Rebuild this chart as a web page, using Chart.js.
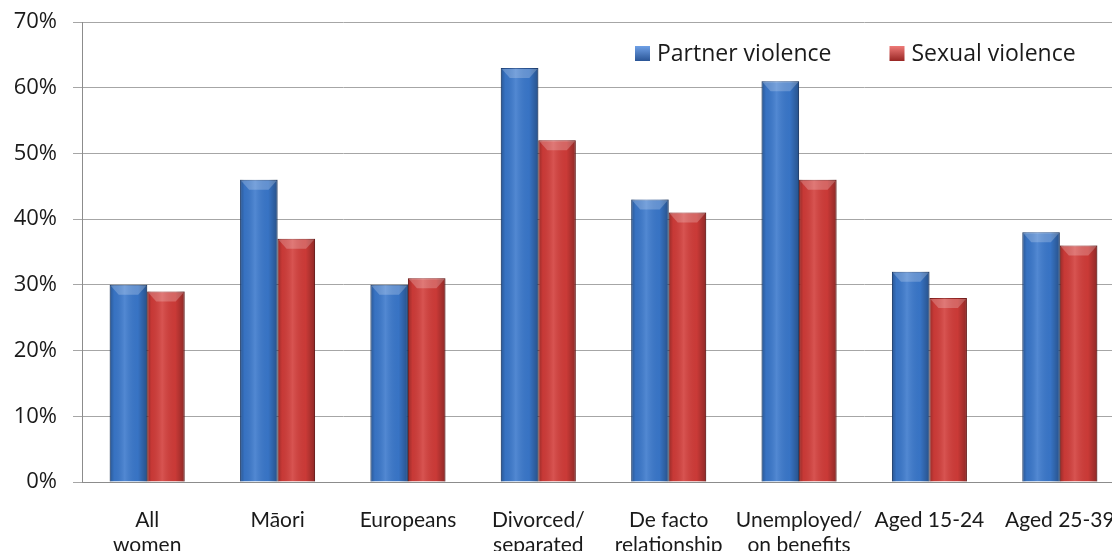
<!DOCTYPE html>
<html>
<head>
<meta charset="utf-8">
<script src="https://cdn.jsdelivr.net/npm/chart.js@4"></script>
<style>
  html, body { margin: 0; padding: 0; background: #fff; overflow: hidden; }
  #chart { display: block; }
</style>
</head>
<body>
<canvas id="chart" width="1125" height="556"></canvas>
<script>
// categories and values (percent of women)
var categories = [
    ['All', 'women'], ['Māori'], ['Europeans'], ['Divorced/', 'separated'],
    ['De facto', 'relationship'], ['Unemployed/', 'on benefits'], ['Aged 15-24'], ['Aged 25-39']
];
var partnerViolence = [30, 46, 30, 63, 43, 61, 32, 38];
var sexualViolence = [29, 37, 31, 52, 41, 46, 28, 36];
var yTicks = [0, 10, 20, 30, 40, 50, 60, 70];

// shading so the bars look like the rounded office bars
var barShading = {
    id: 'barShading',
    afterDatasetsDraw: function(chart) {
        var ctx = chart.ctx;
        ctx.save();
        chart.data.datasets.forEach(function(ds, di) {
            chart.getDatasetMeta(di).data.forEach(function(bar) {
                var left = bar.x - bar.width / 2, right = bar.x + bar.width / 2;
                var top = bar.y, bottom = bar.base;
                var g = ctx.createLinearGradient(left, 0, right, 0);
                g.addColorStop(0, 'rgba(0,0,0,0.28)');
                g.addColorStop(0.12, 'rgba(0,0,0,0.05)');
                g.addColorStop(0.4, 'rgba(255,255,255,0.12)');
                g.addColorStop(0.75, 'rgba(0,0,0,0.04)');
                g.addColorStop(1, 'rgba(0,0,0,0.32)');
                ctx.fillStyle = g;
                ctx.fillRect(left, top, right - left, bottom - top);
                // bevel on top
                var b = Math.min(10, bottom - top);
                ctx.beginPath();
                ctx.moveTo(left + 1, top + 1);
                ctx.lineTo(right - 1, top + 1);
                ctx.lineTo(right - 9, top + b);
                ctx.lineTo(left + 9, top + b);
                ctx.closePath();
                ctx.fillStyle = 'rgba(255,255,255,0.22)';
                ctx.fill();
            });
        });
        ctx.restore();
    }
};

// legend drawn inside the plot area, top right
var innerLegend = {
    id: 'innerLegend',
    afterDraw: function(chart) {
        var ctx = chart.ctx;
        var area = chart.chartArea;
        var x = area.right - 490, y = 54;
        ctx.save();
        ctx.font = '23px "Open Sans"';
        ctx.textBaseline = 'middle';
        chart.data.datasets.forEach(function(ds) {
            var g = ctx.createLinearGradient(0, y - 8, 0, y + 7);
            g.addColorStop(0, ds.lightColor);
            g.addColorStop(1, ds.borderColor);
            ctx.fillStyle = g;
            ctx.fillRect(x, y - 8, 15, 15);
            ctx.fillStyle = '#1a1a1a';
            ctx.fillText(ds.label, x + 22, y);
            x += 22 + ctx.measureText(ds.label).width + 58;
        });
        ctx.restore();
    }
};

new Chart(document.getElementById('chart'), {
    type: 'bar',
    data: {
        labels: categories,
        datasets: [
            {
                label: 'Partner violence',
                data: partnerViolence,
                backgroundColor: '#3a78cc',
                borderColor: '#2a5596',
                lightColor: '#6fa0e6',
                borderWidth: 1,
                categoryPercentage: 0.575,
                barPercentage: 1
            },
            {
                label: 'Sexual violence',
                data: sexualViolence,
                backgroundColor: '#d23c39',
                borderColor: '#982624',
                lightColor: '#ee7a77',
                borderWidth: 1,
                categoryPercentage: 0.575,
                barPercentage: 1
            }
        ]
    },
    options: {
        responsive: false,
        animation: false,
        layout: { padding: { left: 12, top: 22, right: 0, bottom: 0 } },
        plugins: {
            legend: { display: false },
            tooltip: { enabled: false }
        },
        scales: {
            x: {
                grid: { display: false },
                border: { display: true, color: '#8c8c8c' },
                afterFit: function(scale) {
                    scale.height = 74;
                    scale.paddingLeft = 0;
                    scale.paddingRight = 0;
                },
                ticks: {
                    color: '#1a1a1a',
                    padding: 18,
                    maxRotation: 0,
                    autoSkip: false,
                    font: { family: 'Lato', size: 21, lineHeight: 25 / 21 }
                }
            },
            y: {
                min: 0,
                max: 70,
                afterBuildTicks: function(scale) {
                    scale.ticks = yTicks.map(function(v) { return { value: v }; });
                },
                afterFit: function(scale) {
                    scale.width = 70;
                    scale.paddingTop = 0;
                    scale.paddingBottom = 0;
                },
                grid: { color: '#a6a6a6', tickLength: 9 },
                border: { display: true, color: '#8c8c8c' },
                ticks: {
                    color: '#1a1a1a',
                    padding: 16,
                    font: { family: 'Open Sans', size: 22 },
                    callback: function(v) { return v + '%'; }
                }
            }
        }
    },
    plugins: [barShading, innerLegend]
});
</script>
</body>
</html>
